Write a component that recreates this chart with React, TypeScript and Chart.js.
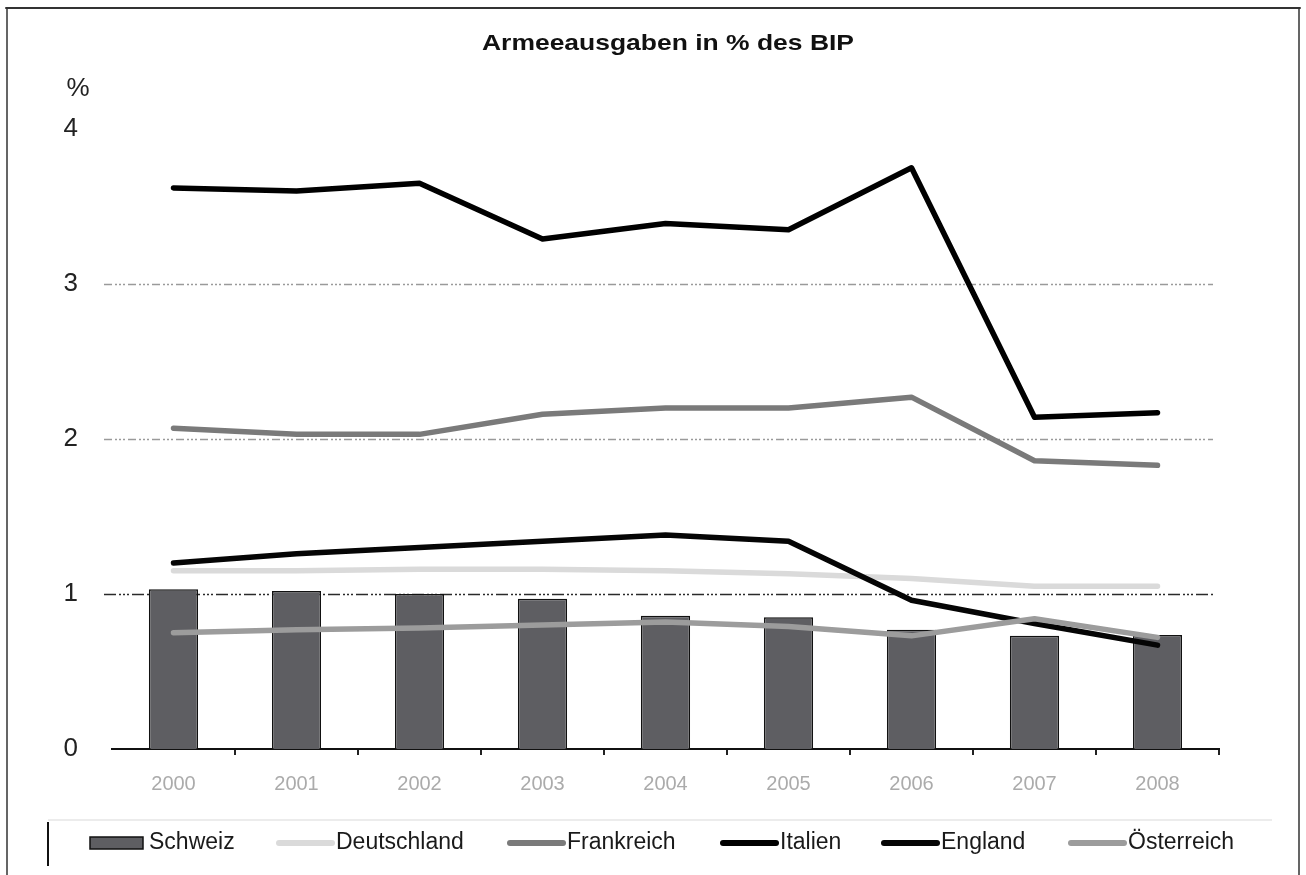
import React, { useEffect, useRef } from "react";
import { Chart, registerables } from "chart.js";

Chart.register(...registerables);

const YEARS = ["2000", "2001", "2002", "2003", "2004", "2005", "2006", "2007", "2008"];
const Y_TICKS = [0, 1, 2, 3, 4];
const SCHWEIZ = [1.03, 1.02, 1.0, 0.97, 0.86, 0.85, 0.77, 0.73, 0.735];
const DEUTSCHLAND = [1.15, 1.15, 1.16, 1.16, 1.15, 1.13, 1.1, 1.05, 1.05];
const FRANKREICH = [2.07, 2.03, 2.03, 2.16, 2.2, 2.2, 2.27, 1.86, 1.83];
const ITALIEN = [3.62, 3.6, 3.65, 3.29, 3.39, 3.35, 3.75, 2.14, 2.17];
const ENGLAND = [1.2, 1.26, 1.3, 1.34, 1.38, 1.34, 0.96, 0.81, 0.67];
const OESTERREICH = [0.75, 0.77, 0.78, 0.8, 0.82, 0.79, 0.73, 0.84, 0.72];
const TITLE = "Armeeausgaben in % des BIP";
const UNIT = "%";

const FONT = "'Liberation Sans', Arial, sans-serif";
const LEGEND_X = [90, 277, 508, 721, 882, 1069];

const decor = {
  id: "decor",
  beforeDraw(chart: any) {
    const ctx = chart.ctx;
    ctx.save();
    ctx.fillStyle = "#ffffff";
    ctx.fillRect(0, 0, chart.width, chart.height);
    ctx.restore();
  },
  beforeDatasetsDraw(chart: any) {
    const ctx = chart.ctx;
    const y = chart.scales.y;
    const { left, right } = chart.chartArea;
    ctx.save();
    Y_TICKS.forEach((v) => {
      if (v <= 0 || v >= 4) return;
      const py = Math.round(y.getPixelForValue(v)) + 0.5;
      ctx.beginPath();
      if (v === 1) {
        ctx.strokeStyle = "#2a2a2a";
        ctx.setLineDash([12, 3, 2, 2, 2, 2, 2, 3]);
        ctx.lineWidth = 1.6;
      } else {
        ctx.strokeStyle = "#9a9a9a";
        ctx.setLineDash([8, 3, 2, 2, 2, 2, 2, 3]);
        ctx.lineWidth = 1.4;
      }
      ctx.moveTo(left - 8, py);
      ctx.lineTo(right - 6, py);
      ctx.stroke();
    });
    ctx.restore();
  },
  afterDraw(chart: any) {
    const ctx = chart.ctx;
    ctx.save();
    // title (stretched horizontally)
    ctx.font = `bold 22px ${FONT}`;
    ctx.fillStyle = "#111";
    ctx.textBaseline = "middle";
    ctx.textAlign = "center";
    const tw = ctx.measureText(TITLE).width;
    ctx.save();
    ctx.translate(668, 44);
    ctx.scale(372 / tw, 1);
    ctx.fillText(TITLE, 0, 0);
    ctx.restore();

    // unit label
    ctx.font = `26px ${FONT}`;
    ctx.fillStyle = "#222";
    ctx.textAlign = "center";
    ctx.fillText(UNIT, 78, 89);

    // legend separator & left bar
    ctx.strokeStyle = "#e6e6e6";
    ctx.lineWidth = 1.5;
    ctx.beginPath();
    ctx.moveTo(48, 820);
    ctx.lineTo(1272, 820);
    ctx.stroke();
    ctx.strokeStyle = "#111";
    ctx.lineWidth = 2;
    ctx.beginPath();
    ctx.moveTo(48, 822);
    ctx.lineTo(48, 866);
    ctx.stroke();

    // legend
    const ly = 843;
    chart.data.datasets.forEach((ds: any, i: number) => {
      const x = LEGEND_X[i];
      if (ds.type === "bar") {
        ctx.fillStyle = ds.backgroundColor;
        ctx.fillRect(x, ly - 6, 53, 12);
        ctx.strokeStyle = "#111";
        ctx.lineWidth = 1.5;
        ctx.strokeRect(x, ly - 6, 53, 12);
      } else {
        ctx.strokeStyle = ds.borderColor;
        ctx.lineWidth = 6;
        ctx.lineCap = "round";
        ctx.beginPath();
        ctx.moveTo(x + 2, ly);
        ctx.lineTo(x + 55, ly);
        ctx.stroke();
      }
      ctx.font = `23px ${FONT}`;
      ctx.fillStyle = "#1a1a1a";
      ctx.textAlign = "left";
      ctx.textBaseline = "middle";
      ctx.fillText(ds.label, x + 59, ly);
    });

    // frame
    ctx.strokeStyle = "#333";
    ctx.lineWidth = 2;
    ctx.beginPath();
    ctx.moveTo(6, 8);
    ctx.lineTo(1300, 8);
    ctx.stroke();
    ctx.lineWidth = 1.5;
    ctx.beginPath();
    ctx.moveTo(7, 8);
    ctx.lineTo(7, 875);
    ctx.moveTo(1299, 8);
    ctx.lineTo(1299, 875);
    ctx.stroke();
    ctx.restore();
  },
};

export default function App() {
  const ref = useRef<HTMLCanvasElement>(null);
  useEffect(() => {
    const lineDs = (label: string, data: number[], color: string, order: number) => ({
      type: "line" as const,
      label,
      data,
      borderColor: color,
      backgroundColor: color,
      borderWidth: 5.5,
      pointRadius: 0,
      tension: 0,
      fill: false,
      borderCapStyle: "round" as const,
      borderJoinStyle: "round" as const,
      order,
    });
    const chart = new Chart(ref.current!, {
      type: "bar",
      data: {
        labels: YEARS,
        datasets: [
          {
            type: "bar",
            label: "Schweiz",
            data: SCHWEIZ,
            backgroundColor: "#5e5e62",
            borderColor: "#111",
            borderWidth: 1.5,
            barPercentage: 0.4,
            categoryPercentage: 1,
            order: 10,
          } as any,
          lineDs("Deutschland", DEUTSCHLAND, "#dadada", 4),
          lineDs("Frankreich", FRANKREICH, "#7a7a7a", 3),
          lineDs("Italien", ITALIEN, "#000000", 2),
          lineDs("England", ENGLAND, "#050505", 1),
          lineDs("Österreich", OESTERREICH, "#9c9c9c", 0),
        ],
      },
      options: {
        responsive: false,
        animation: false,
        devicePixelRatio: 1,
        layout: { padding: { top: 129, right: 87, left: 0, bottom: 0 } },
        plugins: {
          legend: { display: false },
          title: { display: false },
          tooltip: { enabled: false },
        },
        scales: {
          x: {
            offset: true,
            grid: {
              display: true,
              drawOnChartArea: false,
              drawTicks: true,
              tickLength: 6,
              offset: true,
              lineWidth: 2,
              color: (c: any) => (c.index === 0 ? "rgba(0,0,0,0)" : "#222"),
            },
            border: { display: true, color: "#111", width: 2 },
            ticks: {
              color: "#ababab",
              font: { size: 20, family: FONT },
              padding: 17,
              maxRotation: 0,
            },
            afterFit: (s: any) => {
              s.height = 126;
            },
          },
          y: {
            min: 0,
            max: 4,
            grid: { display: false },
            border: { display: false },
            ticks: {
              color: "#222",
              font: { size: 26, family: FONT },
              padding: 26,
            },
            afterBuildTicks: (s: any) => {
              s.ticks = Y_TICKS.map((v) => ({ value: v }));
            },
            afterFit: (s: any) => {
              s.width = 112;
            },
          },
        },
      },
      plugins: [decor],
    });
    return () => chart.destroy();
  }, []);
  return (
    <div style={{ position: "fixed", left: 0, top: 0, width: 1306, height: 875, background: "#fff" }}>
      <canvas ref={ref} width={1306} height={875} style={{ display: "block" }} />
    </div>
  );
}
